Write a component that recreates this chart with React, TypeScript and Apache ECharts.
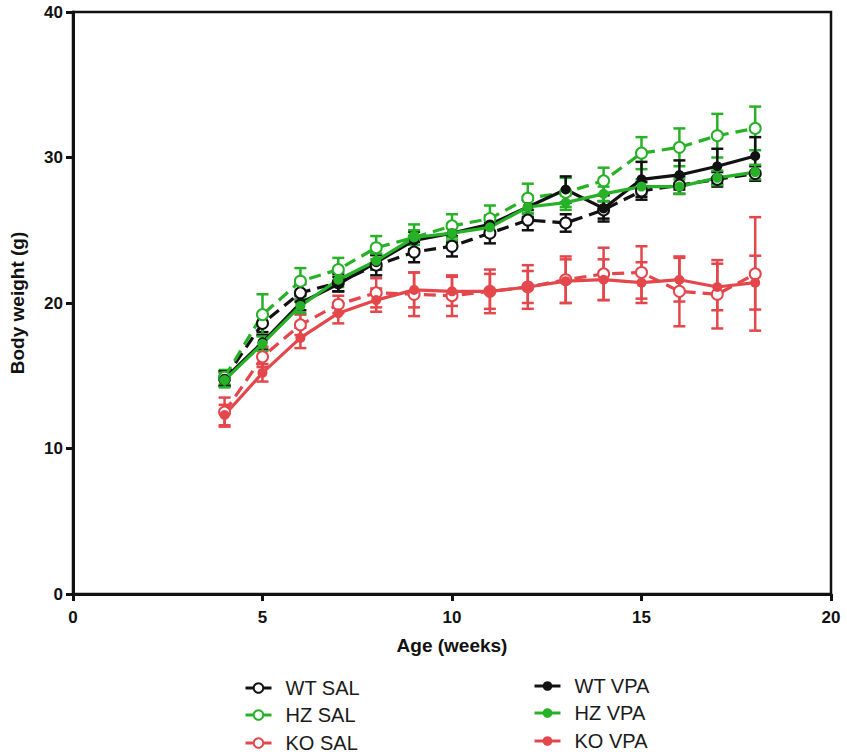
import React, { useEffect, useRef } from "react";
import * as echarts from "echarts";

const weeks = [4, 5, 6, 7, 8, 9, 10, 11, 12, 13, 14, 15, 16, 17, 18];

const wtSal = [14.8, 18.6, 20.7, 21.4, 22.6, 23.5, 23.9, 24.8, 25.7, 25.5, 26.4, 27.7, 28.1, 28.5, 28.9];
const wtSalSem = [0.5, 0.6, 0.6, 0.6, 0.7, 0.7, 0.7, 0.7, 0.7, 0.6, 0.6, 0.6, 0.6, 0.5, 0.5];
const hzSal = [14.9, 19.2, 21.5, 22.3, 23.8, 24.5, 25.3, 25.8, 27.2, 27.6, 28.4, 30.3, 30.7, 31.5, 32.0];
const hzSalSem = [0.5, 1.4, 0.9, 0.8, 0.8, 0.9, 0.8, 0.9, 1.0, 1.0, 0.9, 1.1, 1.3, 1.5, 1.5];
const koSal = [12.5, 16.3, 18.5, 19.9, 20.7, 20.6, 20.5, 20.8, 21.1, 21.6, 22.0, 22.1, 20.8, 20.6, 22.0];
const koSalSem = [1.0, 0.7, 0.7, 0.6, 1.0, 1.5, 1.4, 1.2, 1.1, 1.6, 1.8, 1.8, 2.4, 2.35, 3.9];
const wtVpa = [14.8, 17.3, 20.0, 21.3, 22.8, 24.3, 24.8, 25.4, 26.6, 27.8, 26.5, 28.5, 28.8, 29.4, 30.1];
const wtVpaSem = [0.5, 0.5, 0.5, 0.5, 0.5, 0.6, 0.6, 0.6, 0.7, 0.9, 0.9, 1.2, 1.0, 1.2, 1.3];
const hzVpa = [14.7, 17.2, 19.8, 21.6, 22.9, 24.5, 24.8, 25.2, 26.6, 26.9, 27.5, 28.0, 28.0, 28.6, 29.0];
const hzVpaSem = [0.5, 0.5, 0.5, 0.5, 0.5, 0.5, 0.5, 0.5, 0.5, 0.5, 0.5, 0.5, 0.5, 0.5, 0.5];
const koVpa = [12.3, 15.2, 17.6, 19.3, 20.2, 20.9, 20.8, 20.8, 21.1, 21.5, 21.6, 21.4, 21.6, 21.1, 21.4];
const koVpaSem = [0.7, 0.6, 0.7, 0.7, 0.8, 1.2, 1.0, 1.5, 1.5, 1.5, 1.4, 1.4, 1.5, 1.6, 1.85];

const xTicks = [0, 5, 10, 15, 20];
const yTicks = [0, 10, 20, 30, 40];

const BLACK = "#111111";
const GREEN = "#27b127";
const RED = "#e4474b";
const FONT = "Arial, 'Liberation Sans', sans-serif";

type Group = { name: string; values: number[]; sem: number[]; color: string; open: boolean };

const groups: Group[] = [
  { name: "WT SAL", values: wtSal, sem: wtSalSem, color: BLACK, open: true },
  { name: "HZ SAL", values: hzSal, sem: hzSalSem, color: GREEN, open: true },
  { name: "KO SAL", values: koSal, sem: koSalSem, color: RED, open: true },
  { name: "WT VPA", values: wtVpa, sem: wtVpaSem, color: BLACK, open: false },
  { name: "HZ VPA", values: hzVpa, sem: hzVpaSem, color: GREEN, open: false },
  { name: "KO VPA", values: koVpa, sem: koVpaSem, color: RED, open: false },
];

// legend row placement (left, top) for each group
const legendPos: [number, number][] = [
  [244, 678],
  [244, 705],
  [244, 733],
  [533, 676],
  [533, 703],
  [533, 731],
];

export default function App() {
  const ref = useRef<HTMLDivElement>(null);
  useEffect(() => {
    document.body.style.margin = "0";
    if (!ref.current) return;
    const chart = echarts.init(ref.current, null, { renderer: "svg" });

    const errSeries = groups.map((g) => ({
      type: "custom",
      name: g.name + " err",
      z: 1,
      encode: { x: 0, y: 1 },
      data: weeks.map((w, i) => [w, g.values[i], g.sem[i]]),
      renderItem: (params: any, api: any) => {
        const x = api.value(0);
        const y = api.value(1);
        const e = api.value(2);
        const top = api.coord([x, y + e]);
        const bot = api.coord([x, y - e]);
        const hw = 6;
        const style = { stroke: g.color, lineWidth: 2.5 };
        return {
          type: "group",
          children: [
            { type: "line", shape: { x1: top[0], y1: top[1], x2: bot[0], y2: bot[1] }, style },
            { type: "line", shape: { x1: top[0] - hw, y1: top[1], x2: top[0] + hw, y2: top[1] }, style },
            { type: "line", shape: { x1: bot[0] - hw, y1: bot[1], x2: bot[0] + hw, y2: bot[1] }, style },
          ],
        };
      },
    }));

    const lineSeries = groups.map((g) => ({
      type: "line",
      name: g.name,
      z: 3,
      data: weeks.map((w, i) => [w, g.values[i]]),
      symbol: g.open ? "emptyCircle" : "circle",
      symbolSize: g.open ? 11 : 10,
      showAllSymbol: true,
      itemStyle: { color: g.color, borderWidth: g.open ? 2.5 : 0, borderColor: g.color },
      lineStyle: { color: g.color, width: 3.2, type: g.open ? [12, 7] : "solid" },
    }));

    const legends = groups.map((g, i) => ({
      orient: "horizontal",
      left: legendPos[i][0],
      top: legendPos[i][1],
      itemWidth: 26,
      itemHeight: 12,
      selectedMode: false,
      padding: 0,
      textStyle: { fontFamily: FONT, fontSize: 20, color: "#1a1a1a", padding: [0, 0, 0, 9] },
      lineStyle: { type: "solid", width: 3 },
      data: [g.name],
    }));

    chart.setOption({
      animation: false,
      backgroundColor: "#ffffff",
      grid: {
        left: 70,
        right: 16,
        top: 12,
        bottom: 161,
        show: true,
        borderColor: BLACK,
        borderWidth: 2.5,
        backgroundColor: "transparent",
      },
      legend: legends,
      xAxis: {
        type: "value",
        min: xTicks[0],
        max: xTicks[xTicks.length - 1],
        interval: 5,
        name: "Age (weeks)",
        nameLocation: "middle",
        nameGap: 42,
        nameTextStyle: { fontFamily: FONT, fontSize: 19, fontWeight: "bold", color: BLACK },
        axisLine: { show: true, lineStyle: { color: BLACK, width: 3 } },
        axisTick: { show: true, inside: false, length: 7, lineStyle: { color: BLACK, width: 3 } },
        axisLabel: { fontFamily: FONT, fontSize: 17, fontWeight: "bold", color: BLACK, margin: 15 },
        splitLine: { show: false },
      },
      yAxis: {
        type: "value",
        min: yTicks[0],
        max: yTicks[yTicks.length - 1],
        interval: 10,
        name: "Body weight (g)",
        nameLocation: "middle",
        nameGap: 46,
        nameTextStyle: { fontFamily: FONT, fontSize: 19, fontWeight: "bold", color: BLACK },
        axisLine: { show: true, lineStyle: { color: BLACK, width: 3 } },
        axisTick: { show: true, inside: false, length: 7, lineStyle: { color: BLACK, width: 3 } },
        axisLabel: { fontFamily: FONT, fontSize: 17, fontWeight: "bold", color: BLACK, margin: 10 },
        splitLine: { show: false },
      },
      series: [...errSeries, ...lineSeries],
    });

    return () => chart.dispose();
  }, []);

  return <div ref={ref} style={{ width: 847, height: 755 }} />;
}
